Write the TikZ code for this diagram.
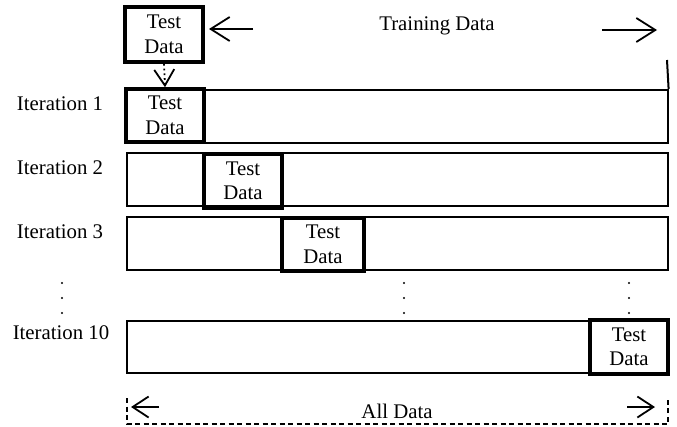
\documentclass[tikz,border=0pt]{standalone}
\usepackage{fontspec}
\setmainfont{Liberation Serif}
\usetikzlibrary{arrows.meta}
\tikzset{
  rowbox/.style={draw, line width=1.6pt, minimum width=541pt, minimum height=53pt, inner sep=0pt, anchor=north west},
  testbox/.style={draw, line width=3.6pt, align=center, inner sep=0pt, font=\fontsize{20.8}{24.5}\selectfont},
  lbl/.style={font=\fontsize{20.8}{24}\selectfont, inner sep=0pt},
  barb/.style={-{Straight Barb[length=19pt,width=24pt,line width=1.8pt]}},
  bigarrow/.style={line width=1.8pt, barb},
  dotmark/.style={fill=black},
}
\begin{document}
\begin{tikzpicture}[x=1pt,y=-1pt]
\useasboundingbox (0,0) rectangle (677,426);
% top test data box and training arrows
\node[testbox, minimum width=78pt, minimum height=55pt] (top) at (164,34.5) {Test\\Data};
\node[lbl] (train) at (437,26) {Training Data};
\coordinate (la1) at (253,29);
\coordinate (la2) at (209,29);
\coordinate (ra1) at (602,30);
\coordinate (ra2) at (657,30);
\draw[bigarrow] (la1) -- (la2);
\draw[bigarrow] (ra1) -- (ra2);
% rows
\node[rowbox] (row1) at (126,89) {};
\node[rowbox] (row2) at (126,152) {};
\node[rowbox] (row3) at (126,216) {};
\node[rowbox, minimum height=52pt] (row10) at (126,320) {};
\node[testbox, minimum width=78pt, minimum height=53pt] (t1) at (165,115.5) {Test\\Data};
\node[testbox, minimum width=78pt, minimum height=54pt] (t2) at (243,181) {Test\\Data};
\node[testbox, minimum width=82pt, minimum height=53pt] (t3) at (323,244.5) {Test\\Data};
\node[testbox, minimum width=78pt, minimum height=54pt] (t10) at (629,347) {Test\\Data};
% right vertical line
\coordinate (vtop) at (667,60);
\draw[line width=2pt] (vtop) -- (row1.north east);
% dotted arrow
\draw[line width=1.8pt, dash pattern=on 1.8pt off 3pt, -{Straight Barb[length=16pt,width=20pt,line width=1.8pt]}] (top.south) -- (t1.north);
% labels
\node[lbl] (it1) at (60,104) {Iteration 1};
\node[lbl] (it2) at (60,168) {Iteration 2};
\node[lbl] (it3) at (60,232) {Iteration 3};
\node[lbl] (it10) at (61,333) {Iteration 10};
% dots
\foreach \xx in {62,404,629}{
  \foreach \yy in {283,298,313}{
    \fill[dotmark] (\xx,\yy) circle (1.1pt);
  }
}
% all data
\node[lbl] (all) at (397,411) {All Data};
\draw[line width=1.6pt, dash pattern=on 5pt off 3.5pt] (127,398) -- (127,424) -- (668,424) -- (668,398);
\coordinate (aa1) at (159,407);
\coordinate (aa2) at (131,407);
\coordinate (ab1) at (627,407);
\coordinate (ab2) at (655,407);
\draw[line width=1.8pt, -{Straight Barb[length=16pt,width=21pt,line width=1.8pt]}] (aa1) -- (aa2);
\draw[line width=1.8pt, -{Straight Barb[length=16pt,width=21pt,line width=1.8pt]}] (ab1) -- (ab2);
\end{tikzpicture}
\end{document}
